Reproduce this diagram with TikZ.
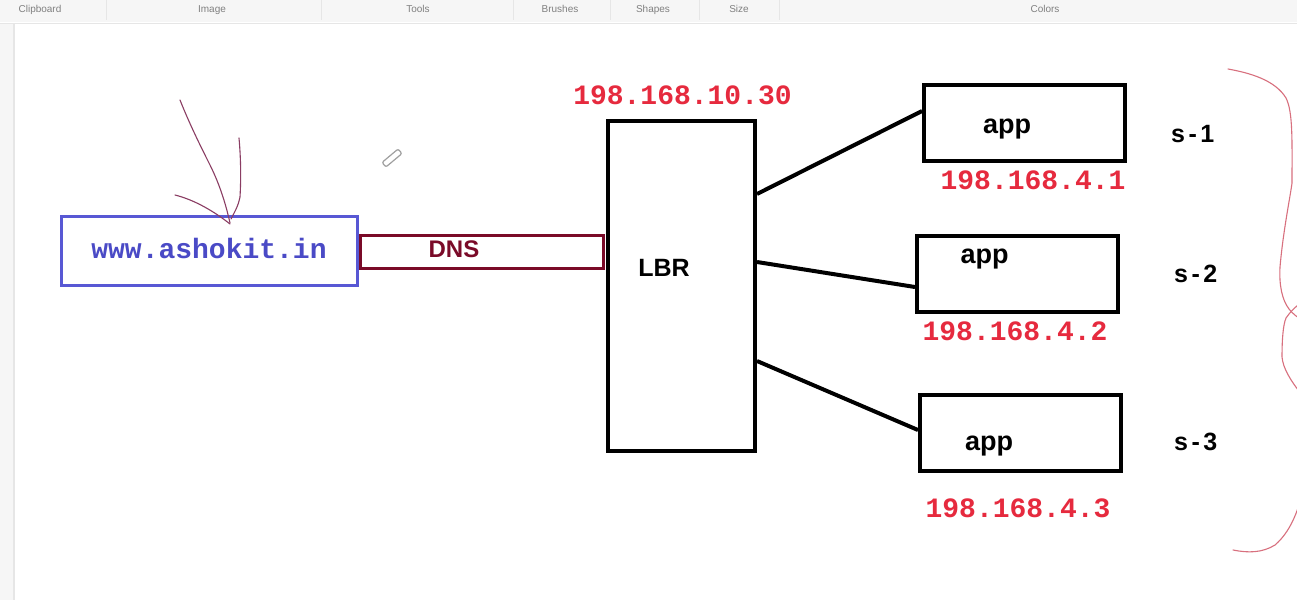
\documentclass[tikz,border=0pt]{standalone}
\usepackage{fontspec}
\setmainfont{Liberation Sans}
\newfontfamily\monob{Liberation Mono Bold}
\newfontfamily\sansb{Liberation Sans Bold}
\definecolor{bluebox}{HTML}{5858D4}
\definecolor{bluetxt}{HTML}{4A4AC6}
\definecolor{dnsred}{HTML}{7A0A28}
\definecolor{ipred}{HTML}{E62A3E}
\definecolor{bracered}{HTML}{D8707E}
\definecolor{arrowpen}{HTML}{8A3D63}
\definecolor{barbg}{HTML}{F6F6F6}
\definecolor{barline}{HTML}{E6E6E6}
\definecolor{bartxt}{HTML}{808080}
\tikzset{
  boxblack/.style={draw=black, line width=4pt, inner sep=0pt, fill=white},
  iplabel/.style={anchor=base, inner sep=0pt, text=ipred, font=\monob\fontsize{28}{30}\selectfont},
  applabel/.style={anchor=base, inner sep=0pt, font=\sansb\fontsize{27}{30}\selectfont},
  slabel/.style={anchor=base west, inner sep=0pt, font=\sansb\fontsize{25}{28}\selectfont\addfontfeature{LetterSpace=14}},
  link/.style={draw=black, line width=4pt},
  pen/.style={draw=arrowpen, line width=1.1pt, line cap=round, line join=round},
  bracepen/.style={draw=bracered, line width=1.1pt, line cap=round},
  bartext/.style={anchor=base, inner sep=0pt, text=bartxt, font=\fontsize{10}{12}\selectfont},
}
\begin{document}
\begin{tikzpicture}[x=1pt,y=-1pt]
\useasboundingbox (0,0) rectangle (1297,600);
\clip (0,0) rectangle (1297,600);
\fill[white] (0,0) rectangle (1297,600);
% toolbar strip
\fill[barbg] (0,0) rectangle (1297,22);
\draw[barline, line width=1pt] (0,23) -- (1297,23);
\foreach \sx in {106,321,513,610,699,779}{\draw[barline, line width=1pt] (\sx,0) -- (\sx,20);}
\node[bartext] (tb1) at (40,12) {Clipboard};
\node[bartext] (tb2) at (212,12) {Image};
\node[bartext] (tb3) at (418,12) {Tools};
\node[bartext] (tb4) at (560,12) {Brushes};
\node[bartext] (tb5) at (653,12) {Shapes};
\node[bartext] (tb6) at (739,12) {Size};
\node[bartext] (tb7) at (1045,12) {Colors};
% left strip
\fill[barbg] (0,24) rectangle (13,600);
\draw[barline, line width=1.5pt] (14,24) -- (14,600);

% boxes
\node[draw=bluebox, line width=3pt, inner sep=0pt, minimum width=296pt, minimum height=69pt] (web) at (209.5,251) {};
\node[iplabel, text=bluetxt] (webtxt) at (209,258) {www.ashokit.in};
\node[draw=dnsred, line width=3pt, inner sep=0pt, minimum width=243pt, minimum height=33pt] (dns) at (481.5,252) {};
\node[anchor=base, inner sep=0pt, text=dnsred, font=\sansb\fontsize{24}{26}\selectfont] (dnstxt) at (454,257) {DNS};

\node[boxblack, minimum width=147pt, minimum height=330pt] (lbr) at (681.5,286) {};
\node[anchor=base, inner sep=0pt, font=\sansb\fontsize{25}{27}\selectfont] (lbrtxt) at (664,276) {LBR};
\node[iplabel] (lbrip) at (682.5,104) {198.168.10.30};

\node[boxblack, minimum width=201pt, minimum height=76pt] (app1) at (1024.5,123) {};
\node[boxblack, minimum width=201pt, minimum height=76pt] (app2) at (1017.5,274) {};
\node[boxblack, minimum width=201pt, minimum height=76pt] (app3) at (1020.5,433) {};
\node[applabel] (app1txt) at (1007,133) {app};
\node[applabel] (app2txt) at (984.5,263) {app};
\node[applabel] (app3txt) at (989,450) {app};
\node[iplabel] (ip1) at (1033,189) {198.168.4.1};
\node[iplabel] (ip2) at (1015,340) {198.168.4.2};
\node[iplabel] (ip3) at (1018,517) {198.168.4.3};
\node[slabel] (s1) at (1171,142) {s-1};
\node[slabel] (s2) at (1174,282) {s-2};
\node[slabel] (s3) at (1174,450) {s-3};

% connectors
\draw[link] ([yshift=92pt]lbr.east) -- ([yshift=12pt]app1.west);
\draw[link] ([yshift=24pt]lbr.east) -- ([yshift=-13pt]app2.west);
\draw[link] ([yshift=-75pt]lbr.east) -- ([yshift=3pt]app3.west);

% hand-drawn arrow
\draw[pen] (180,100) .. controls (190,125) and (200,145) .. (210,165) .. controls (220,185) and (226,205) .. (230,223);
\draw[pen] (239,138) .. controls (241,160) and (241,180) .. (240,197) .. controls (238,207) and (234,213) .. (231,219);
\draw[pen] (175,195) .. controls (195,200) and (215,212) .. (230,224);

% pencil cursor
\node[draw=gray!75, line width=1.2pt, fill=white, inner sep=0pt, minimum width=21pt, minimum height=6pt, rounded corners=2pt, rotate=40] (pencil) at (392,158) {};

% hand-drawn brace
\draw[bracepen] (1228,69) .. controls (1250,73) and (1275,80) .. (1286,98) .. controls (1293,112) and (1292,140) .. (1292,183) .. controls (1290,198) and (1283,232) .. (1280,267) .. controls (1279,285) and (1282,300) .. (1289,309) .. controls (1293,314) and (1297,317) .. (1302,320);
\draw[bracepen] (1302,302) .. controls (1296,306) and (1290,312) .. (1286,318) .. controls (1283,325) and (1282,340) .. (1282,357) .. controls (1283,368) and (1290,380) .. (1302,395);
\draw[bracepen] (1303,490) .. controls (1298,512) and (1290,532) .. (1275,545) .. controls (1262,553) and (1248,553) .. (1233,550);
\end{tikzpicture}
\end{document}
